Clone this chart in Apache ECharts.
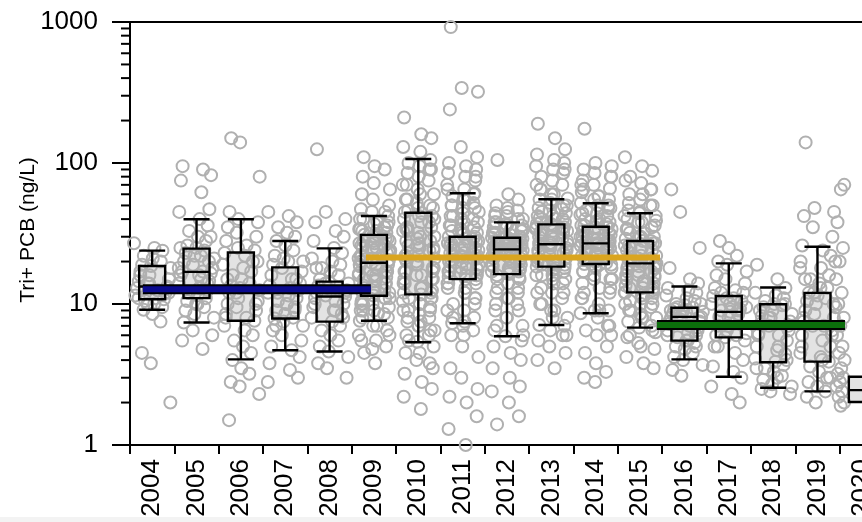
<!DOCTYPE html>
<html>
<head>
<meta charset="utf-8">
<script src="https://cdn.jsdelivr.net/npm/echarts@6/dist/echarts.min.js"></script>
<style>
  html, body { margin: 0; padding: 0; background: #fff; }
  #chart { width: 862px; height: 522px; }
</style>
</head>
<body>
<div id="chart"></div>
<script>
// years on the x axis
const years = ['2004', '2005', '2006', '2007', '2008', '2009', '2010', '2011', '2012',
               '2013', '2014', '2015', '2016', '2017', '2018', '2019', '2020'];

// box statistics per year (ng/L)
const whiskerLow  = [9.1, 7.4, 4.05, 4.7, 4.6, 7.6, 5.35, 7.3, 5.9, 7.1, 8.6, 6.8, 4.05, 3.05, 2.55, 2.4, 2.02];
const quart1      = [10.8, 11.0, 7.6, 7.9, 7.5, 11.45, 11.7, 15.0, 16.3, 18.4, 19.2, 12.1, 5.5, 5.8, 3.86, 3.9, 2.02];
const median      = [13.3, 16.9, 13.0, 12.5, 11.3, 19.6, 21.0, 21.5, 24.4, 26.5, 26.9, 19.4, 8.1, 8.8, 7.0, 7.1, 2.45];
const quart3      = [18.6, 24.7, 23.2, 18.2, 14.4, 30.9, 44.4, 30.0, 29.5, 36.7, 35.3, 28.0, 9.4, 11.4, 9.95, 12.0, 3.05];
const whiskerHigh = [23.9, 39.9, 39.9, 28.0, 24.8, 42.1, 106.8, 61.0, 37.9, 55.3, 51.8, 44.0, 13.3, 19.4, 13.1, 25.5, 3.05];

// individual samples per year (ng/L)
const s2004 = [27, 25, 23.9, 22, 21, 20, 19, 18.6, 18, 17, 16, 15, 14.5, 14, 13.3, 13, 12.5, 12, 11.5, 11, 10.8, 10.5, 10, 9.5, 9.1, 8.5, 7.5, 4.5, 3.8, 2.0,
               16, 14, 12, 11, 10, 13];
const s2005 = [95, 90, 82, 75, 62, 47, 45, 40, 36, 33, 30, 28, 26, 25, 24, 23, 22, 21, 20, 19, 18, 17, 17, 16.5, 16, 15, 14.5, 14, 13, 12.5, 12, 11.5, 11, 10.5, 10, 9.5, 9, 8.5, 8, 7.4, 6.5, 6.0, 5.5, 4.8,
               30, 25, 22, 20, 18, 16, 14, 12, 10];
const s2006 = [150, 140, 80, 45, 40, 38, 35, 32, 30, 28, 26, 24, 23, 22, 20, 19, 18, 17, 16, 15, 14, 13.5, 13, 12.5, 12, 11, 10.5, 10, 9.5, 9, 8.5, 8, 7.6, 7, 6.5, 6, 5.5, 5, 4.5, 4, 3.5, 3.2, 2.8, 2.6, 2.3, 1.5,
               25, 20, 15, 12, 10, 8];
const s2007 = [45, 42, 38, 35, 32, 30, 28, 26, 24, 22, 21, 20, 19, 18, 17, 16, 15, 14, 13.5, 13, 12.5, 12, 11.5, 11, 10.5, 10, 9.5, 9, 8.5, 8, 7.9, 7.5, 7, 6.5, 6, 5.5, 5, 4.7, 4.2, 3.8, 3.4, 3.0, 2.8,
               20, 15, 12, 10, 9, 7];
const s2008 = [125, 45, 40, 38, 33, 30, 28, 25, 23, 21, 20, 19, 18, 17, 16, 15, 14.4, 14, 13.5, 13, 12.5, 12, 11.5, 11.3, 11, 10.5, 10, 9.5, 9, 8.5, 8, 7.5, 7, 6.5, 6, 5.5, 5, 4.6, 4.2, 3.8, 3.5, 3.0,
               18, 14, 12, 10, 9, 8];
const s2009 = [110, 95, 90, 80, 72, 65, 60, 55, 50, 47, 45, 42, 40, 38, 36, 34, 33, 32, 31, 30, 29, 28, 27, 26, 25, 24, 23, 22, 21, 20.5, 20, 19.6, 19, 18.5, 18, 17, 16.5, 16, 15.5, 15, 14.5, 14, 13.5, 13, 12.5, 12, 11.5, 11, 10.5, 10, 9.5, 9, 8.5, 8, 7.6, 7, 6.5, 6, 5.5, 5, 4.5, 3.8,
               45, 40, 37, 35, 33, 30, 28, 26, 25, 24, 22, 21, 20, 19, 18, 17, 16, 15, 14, 13, 12, 11, 10, 9, 8.5, 8, 7, 6, 5.5, 4.8,
               38, 34, 31, 29, 27, 25, 23, 21, 19, 17, 15, 13, 11, 9, 28, 24, 20, 16, 12, 10];
const s2010 = [210, 160, 150, 130, 120, 105, 100, 95, 90, 85, 80, 75, 70, 65, 60, 55, 52, 48, 45, 44, 42, 40, 38, 35, 33, 30, 28, 26, 25, 24, 23, 22, 21, 20, 19, 18, 17, 16, 15, 14, 13, 12.5, 12, 11.7, 11, 10.5, 10, 9.5, 9, 8.5, 8, 7.5, 7, 6.5, 6, 5.4, 5, 4.5, 4, 3.5, 3.2, 2.8, 2.5, 2.2, 1.8,
               90, 70, 60, 50, 46, 42, 38, 35, 32, 30, 28, 26, 24, 22, 20, 18, 17, 16, 15, 14, 13, 12, 11, 10, 9, 8, 7, 6,
               55, 48, 40, 34, 29, 25, 21, 19, 17, 15, 13, 11, 9, 7.5, 6.5, 5.5, 4.5, 3.8, 33, 27];
const s2011 = [920, 340, 320, 240, 130, 110, 100, 95, 90, 85, 80, 75, 70, 65, 61, 58, 55, 52, 50, 48, 45, 42, 40, 38, 36, 34, 32, 30, 29, 28, 27, 26, 25, 24, 23, 22.5, 22, 21.5, 21, 20.5, 20, 19, 18.5, 18, 17.5, 17, 16.5, 16, 15.5, 15, 14, 13, 12, 11, 10, 9, 8, 7.3, 7, 6.5, 6, 5, 4.2, 3.5, 3, 2.5, 2.2, 2, 1.6, 1.3, 1.0,
               80, 65, 55, 48, 42, 38, 35, 33, 31, 29, 27, 25, 24, 23, 22, 21, 20, 19, 18, 17, 16, 15, 14, 12, 10, 8, 6,
               60, 50, 44, 40, 36, 32, 28, 26, 24, 22, 20, 18, 16, 14, 13, 11, 9, 7.5, 30, 25];
const s2012 = [105, 60, 55, 50, 48, 46, 44, 42, 40, 38, 37, 36, 35, 34, 33, 32, 31, 30, 29.5, 29, 28.5, 28, 27.5, 27, 26.5, 26, 25.5, 25, 24.4, 24, 23.5, 23, 22, 21, 20, 19, 18.5, 18, 17.5, 17, 16.3, 15.5, 15, 14, 13, 12, 11, 10, 9, 8, 7, 6.5, 5.9, 5.5, 5, 4.5, 4, 3.5, 3, 2.6, 2.4, 2.0, 1.6, 1.4,
               45, 40, 38, 36, 34, 32, 30, 29, 28, 27, 26, 25, 24, 23, 22, 21, 20, 19, 18, 17, 16, 14, 12, 10, 8, 6,
               42, 37, 33, 31, 29, 27, 25, 23, 21, 19, 17, 15, 13, 11, 9, 7, 28, 26, 24, 22];
const s2013 = [190, 150, 125, 115, 105, 100, 95, 90, 85, 80, 75, 70, 65, 60, 56, 55, 52, 50, 48, 46, 44, 42, 40, 38, 37, 36, 35, 34, 33, 32, 31, 30, 29, 28, 27, 26.5, 26, 25, 24, 23, 22, 21, 20, 19.5, 19, 18.4, 17.5, 17, 16, 15, 14, 13, 12, 11, 10, 9, 8, 7.1, 6.5, 6, 5.5, 5, 4.5, 4, 3.5,
               90, 70, 60, 50, 45, 42, 40, 38, 36, 34, 32, 30, 28, 27, 26, 25, 24, 22, 21, 20, 19, 18, 16, 14, 12, 10, 8, 6,
               65, 55, 47, 41, 37, 33, 30, 27, 24, 21, 18, 15, 12, 9, 7, 35, 29, 23, 19, 16];
const s2014 = [175, 100, 95, 90, 85, 80, 75, 70, 66, 62, 58, 55, 52, 50, 48, 46, 44, 42, 40, 38, 37, 36, 35, 34, 33, 32, 31, 30, 29, 28, 27.5, 27, 26.5, 26, 25, 24, 23, 22, 21, 20.5, 20, 19.5, 19.2, 18.5, 18, 17, 16, 15, 14, 13, 12, 11, 10, 9, 8.6, 8, 7, 6.5, 6, 5, 4.5, 3.8, 3.3, 3.0, 2.8,
               80, 65, 55, 48, 44, 40, 38, 36, 34, 32, 30, 29, 28, 27, 26, 25, 24, 23, 22, 21, 20, 19, 17, 15, 13, 11, 9, 7,
               70, 58, 50, 43, 39, 35, 31, 27, 24, 21, 18, 15, 12, 9, 6, 33, 29, 25, 22, 19];
const s2015 = [110, 95, 88, 80, 72, 65, 60, 55, 50, 46, 44, 42, 40, 38, 36, 34, 32, 30, 29, 28, 27, 26, 25, 24, 23, 22, 21, 20.5, 20, 19.4, 19, 18.5, 18, 17, 16, 15.5, 15, 14.5, 14, 13.5, 13, 12.5, 12.1, 11.5, 11, 10.5, 10, 9.5, 9, 8.5, 8, 7.5, 6.8, 6.3, 5.8, 5.3, 4.8, 4.2, 3.8, 3.5,
               75, 60, 50, 42, 38, 35, 32, 30, 28, 26, 24, 22, 21, 20, 19, 18, 17, 16, 15, 14, 13, 12, 11, 10, 9, 8, 7, 6, 5,
               65, 52, 45, 39, 34, 30, 27, 24, 21, 18, 16, 14, 12, 10, 8, 6.5, 25, 20, 17, 13];
const s2016 = [65, 45, 25, 18, 15, 14, 13, 12.5, 12, 11.5, 11, 10.5, 10, 9.8, 9.4, 9.2, 9, 8.8, 8.5, 8.3, 8.1, 8, 7.8, 7.5, 7.2, 7, 6.8, 6.5, 6.2, 6, 5.8, 5.5, 5.3, 5, 4.8, 4.5, 4.2, 4, 3.7, 3.4, 3.1,
               10, 9, 8.5, 8, 7.5, 7, 6.5, 6, 5.5, 5, 9.5, 8.8];
const s2017 = [28, 25, 22, 20, 19, 17, 16, 15, 14, 13, 12.5, 12, 11.4, 11, 10.5, 10, 9.5, 9.2, 9, 8.8, 8.5, 8.2, 8, 7.5, 7, 6.5, 6.2, 6, 5.8, 5.5, 5, 4.5, 4, 3.6, 3.3, 3, 2.6, 2.3, 2.0,
               12, 10, 9, 8, 7, 6, 5, 11, 9.5];
const s2018 = [19, 15, 13, 12, 11.5, 11, 10.5, 10, 9.8, 9.5, 9, 8.5, 8.2, 8, 7.5, 7.2, 7, 6.5, 6.2, 6, 5.5, 5, 4.7, 4.4, 4.1, 3.9, 3.7, 3.5, 3.3, 3.1, 2.9, 2.7, 2.6, 2.5, 2.4, 2.3,
               9, 8, 7, 6, 5, 4, 3.5, 3, 10];
const s2019 = [140, 48, 45, 42, 35, 30, 26, 24, 22, 20, 18, 16, 15, 14, 13, 12, 11.5, 11, 10.5, 10, 9.5, 9, 8.5, 8, 7.5, 7, 6.5, 6, 5.5, 5, 4.5, 4.2, 3.9, 3.6, 3.3, 3, 2.8, 2.6, 2.4, 2.2, 2.0,
               20, 15, 12, 10, 8, 7, 6, 5, 4, 3, 18, 13];
const s2020 = [70, 65, 38, 25, 20, 15, 12, 10, 8, 7, 6, 5, 4.5, 4, 3.5, 3.2, 3, 2.8, 2.6, 2.4, 2.2, 2.0, 1.9];
const samples = [s2004, s2005, s2006, s2007, s2008, s2009, s2010, s2011, s2012,
                 s2013, s2014, s2015, s2016, s2017, s2018, s2019, s2020];

// trend periods (decimal years) and their level (ng/L)
const trendStart = [2004.29, 2009.32, 2015.88];
const trendEnd   = [2009.43, 2015.95, 2020.12];
const trendLevel = [12.7, 21.4, 7.1];

// minor ticks on the log axis
const minorTicks = [2, 3, 4, 5, 6, 7, 8, 9, 20, 30, 40, 50, 60, 70, 80, 90, 200, 300, 400, 500, 600, 700, 800, 900];

const boxData = years.map((_, i) => [whiskerLow[i], quart1[i], median[i], quart3[i], whiskerHigh[i]]);
const fillData = years.map((_, i) => [i, quart1[i], quart3[i]]);

// spread samples inside their year, bunched in a few sampling runs
const runs = [0.22, 0.52, 0.8];
const scatterData = [];
samples.forEach((vals, i) => {
  const yr = Number(years[i]);
  const last = i === years.length - 1;
  const dense = vals.length > 80;
  vals.forEach((v, k) => {
    const wob = ((k * 0.6180339887 + i * 0.37) % 1) - 0.5;
    const frac = last ? -0.08 + (wob + 0.5) * 0.2
      : runs[k % 3] + wob * (dense ? 0.14 : 0.26);
    scatterData.push([yr + frac, v]);
  });
});

const font = 'Liberation Sans, Arial, sans-serif';
const chart = echarts.init(document.getElementById('chart'));

const trendColors = ['#0b0b8f', '#daa520', '#0b6e0b'];
const trendSeries = [];
trendStart.forEach((s, i) => {
  const pts = [[s, trendLevel[i]], [trendEnd[i], trendLevel[i]]];
  if (i !== 1) {
    trendSeries.push({
      type: 'line', xAxisIndex: 1, yAxisIndex: 0, data: pts, symbol: 'none', z: 6,
      lineStyle: { color: '#000', width: 10 }, silent: true
    });
  }
  trendSeries.push({
    type: 'line', xAxisIndex: 1, yAxisIndex: 0, data: pts, symbol: 'none', z: 7,
    lineStyle: { color: trendColors[i], width: 6 }, silent: true
  });
});

chart.setOption({
  animation: false,
  grid: { left: 130, top: 22, width: 754, height: 423, outerBoundsMode: 'none', containLabel: false,
          show: true, borderColor: '#000', borderWidth: 2, backgroundColor: 'transparent' },
  xAxis: [{
    type: 'category',
    data: years,
    boundaryGap: true,
    axisLine: { lineStyle: { color: '#000', width: 2 } },
    axisTick: { show: true, length: 9, lineStyle: { color: '#000', width: 2 } },
    axisLabel: { rotate: 90, margin: 14, fontSize: 26, color: '#000', fontFamily: font, hideOverlap: false },
    splitLine: { show: false }
  }, {
    type: 'value', min: 2004, max: 2021, show: false
  }],
  yAxis: {
    type: 'log',
    logBase: 10,
    min: 1,
    max: 1000,
    axisLine: { show: true, lineStyle: { color: '#000', width: 2 } },
    axisTick: { show: true, length: 18, lineStyle: { color: '#000', width: 2 } },
    axisLabel: { fontSize: 26, color: '#000', fontFamily: font, margin: 32,
      formatter: v => String(Math.round(v)) },
    splitLine: { show: false }
  },
  series: [{
    // light box fill, under the samples
    type: 'custom', xAxisIndex: 0, yAxisIndex: 0, data: fillData, z: 1, silent: true,
    renderItem: (params, api) => {
      const lo = api.coord([api.value(0), api.value(1)]);
      const hi = api.coord([api.value(0), api.value(2)]);
      return { type: 'rect', shape: { x: lo[0] - 13, y: hi[1], width: 26, height: lo[1] - hi[1] },
        style: { fill: '#e3e3e3' } };
    }
  }, {
    type: 'scatter', xAxisIndex: 1, yAxisIndex: 0, data: scatterData, z: 2,
    symbol: 'circle', symbolSize: 12, silent: true,
    itemStyle: { color: 'rgba(0,0,0,0)', borderColor: '#b0b0b0', borderWidth: 2, opacity: 1 }
  }, {
    type: 'boxplot', data: boxData, boxWidth: [26, 26], z: 3, silent: true,
    itemStyle: { color: 'rgba(0,0,0,0)', borderColor: '#000', borderWidth: 2.4 }
  }, ...trendSeries, {
    type: 'custom', xAxisIndex: 1, yAxisIndex: 0, clip: false, silent: true, z: 8,
    data: minorTicks.map(v => [2004, v]),
    renderItem: (params, api) => {
      const p = api.coord([api.value(0), api.value(1)]);
      return { type: 'line', shape: { x1: p[0] - 9, y1: p[1], x2: p[0], y2: p[1] },
        style: { stroke: '#000', lineWidth: 2 } };
    }
  }],
  graphic: [{
    // y axis title
    type: 'text', x: 28, y: 230, rotation: Math.PI / 2, z: 100,
    style: { text: 'Tri+ PCB (ng/L)', fontSize: 21, fontFamily: font, fill: '#000',
             align: 'center', verticalAlign: 'middle' }
  }, {
    type: 'rect', left: 0, bottom: 0, z: 100,
    shape: { width: 862, height: 5 }, style: { fill: '#f3f3f3' }
  }]
});
</script>
</body>
</html>
